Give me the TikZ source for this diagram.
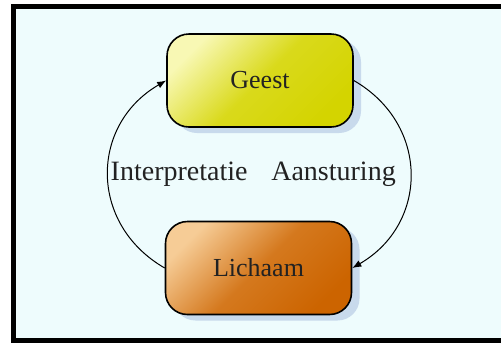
\documentclass[tikz,border=0pt]{standalone}
\usepackage{fontspec}
\setmainfont{Liberation Serif}
\usepackage{xcolor}
\usetikzlibrary{shapes.geometric, arrows.meta, shadows}
\definecolor{framefill}{RGB}{238,252,253}
\definecolor{shadowblue}{RGB}{200,218,236}
\definecolor{geestlight}{RGB}{248,248,180}
\definecolor{geestdark}{RGB}{212,212,0}
\definecolor{lichaamlight}{RGB}{246,204,150}
\definecolor{lichaamdark}{RGB}{204,100,0}
\definecolor{inktgrey}{RGB}{34,34,34}
\tikzstyle{box} = [rectangle, rounded corners=11pt, minimum width=93pt, minimum height=46.5pt, text centered, draw=black, line width=0.8pt, text=inktgrey, font=\fontsize{13}{15}\selectfont, drop shadow={fill=shadowblue, opacity=1, shadow xshift=4pt, shadow yshift=-3pt}]
\tikzstyle{looplabel} = [inner sep=1pt, text=inktgrey, font=\fontsize{14}{16}\selectfont]
\tikzstyle{arrow} = [line width=0.5pt,->,>={Latex[length=4.5pt,width=3.5pt]}]

\begin{document}
\begin{tikzpicture}[node distance=93.75pt]
	\useasboundingbox (0,0) rectangle (250.5pt,-172.5pt);
	\fill [framefill] (6.75pt,-3pt) rectangle (250.5pt,-170pt);
	\draw [line width=2.5pt] (250.5pt,-3pt) -- (6.75pt,-3pt) -- (6.75pt,-170pt) -- (250.5pt,-170pt);

	\node (geest) [box, top color=geestlight, bottom color=geestdark, middle color=geestdark!85!geestlight, shading angle=45] at (130pt,-40.25pt) {Geest};
	\node (lichaam) [box, top color=lichaamlight, bottom color=lichaamdark, middle color=lichaamdark!80!lichaamlight, shading angle=45, below of=geest, xshift=-0.75pt] {Lichaam};

	\draw [arrow] (lichaam.west) to[out=150, in=210, looseness=1.2] node[looplabel, anchor=west] {Interpretatie} (geest.west);
	\draw [arrow] (geest.east) to[out=-30, in=30, looseness=1.2] node[looplabel, anchor=east, xshift=-6pt] {Aansturing} (lichaam.east);
\end{tikzpicture}
\end{document}
